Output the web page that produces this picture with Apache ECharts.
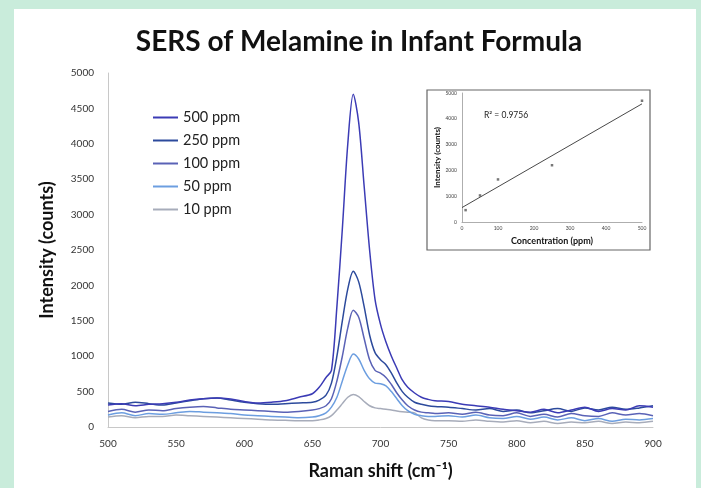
<!DOCTYPE html>
<html>
<head>
<meta charset="utf-8">
<script src="https://cdn.jsdelivr.net/npm/echarts@6/dist/echarts.min.js"></script>
<style>
html,body{margin:0;padding:0;width:701px;height:488px;background:#c9ecdb;overflow:hidden;}
#panel{position:absolute;left:14px;top:9px;width:682px;height:479px;background:#ffffff;}
#chart{position:absolute;left:0;top:0;width:701px;height:488px;}
</style>
</head>
<body>
<div id="panel"></div>
<div id="chart"></div>
<script>
// ---- data ----
const ramanShift = [500,510,520,530,540,550,560,570,580,590,600,610,620,630,640,650,655,660,664,668,672,676,680,684,688,692,696,700,704,708,712,716,720,725,730,735,740,750,760,770,780,790,800,810,820,830,840,850,860,870,880,890,900];
const seriesNames = ['500 ppm','250 ppm','100 ppm','50 ppm','10 ppm'];
const ppm500 = [310,330,300,320,330,350,380,400,410,395,360,340,350,370,420,470,560,700,800,1700,2800,4000,4700,4300,3400,2500,1800,1450,1200,1000,830,664,560,480,420,390,370,360,320,300,280,250,230,210,250,200,240,280,220,260,240,300,280];
const ppm250 = [340,320,350,330,310,340,370,400,410,380,350,330,320,330,340,350,380,450,620,1000,1500,1950,2200,2050,1700,1300,1050,950,880,760,620,500,420,350,320,300,290,280,260,240,260,220,240,200,230,260,220,270,240,280,250,270,300];
const ppm100 = [220,250,210,240,230,260,280,290,270,250,240,230,220,210,220,240,260,300,400,650,1000,1400,1650,1550,1250,950,800,760,700,600,480,380,300,240,210,200,190,200,180,210,170,160,200,150,180,140,190,160,150,200,170,190,160];
const ppm50  = [170,200,160,190,180,200,220,210,200,190,170,160,150,140,130,140,160,200,280,420,650,880,1030,960,800,680,620,610,580,500,400,300,230,180,160,150,150,160,140,170,130,120,150,110,140,100,130,90,120,80,110,100,120];
const ppm10  = [140,160,130,150,150,170,160,150,140,130,120,110,100,95,90,90,100,120,160,240,330,420,460,430,360,300,270,260,250,240,225,215,210,200,130,100,90,90,80,100,80,70,90,60,80,50,70,60,80,50,70,60,80];
const seriesValues = [ppm500, ppm250, ppm100, ppm50, ppm10];
const seriesColors = ['#3b3bb5','#2c4a9c','#5a62b6','#6c9ee0','#a7acba'];

const xTicks = [500,550,600,650,700,750,800,850,900];
const yTicks = [0,500,1000,1500,2000,2500,3000,3500,4000,4500,5000];

// inset: calibration
const insetConc = [10,50,100,250,500];
const insetIntensity = [460,1030,1650,2200,4700];
const trendConc = [0,500];
const trendIntensity = [560,4580];
const insetXTicks = [0,100,200,300,400,500];
const insetYTicks = [0,1000,2000,3000,4000,5000];

const FONT = 'Lato, "Open Sans", sans-serif';

const chart = echarts.init(document.getElementById('chart'), null, {renderer:'canvas'});

const mainSeries = seriesNames.map((n,i)=>({
  name:n, type:'line', xAxisIndex:0, yAxisIndex:0,
  data: ramanShift.map((x,j)=>[x, seriesValues[i][j]]),
  showSymbol:false, smooth:0.3,
  lineStyle:{width:1.5, color:seriesColors[i]},
  itemStyle:{color:seriesColors[i]},
  z: 10 - i
}));

const option = {
  backgroundColor:'transparent',
  animation:false,
  title:{
    text:'SERS of Melamine in Infant Formula',
    left:354, top:23, textAlign:'center',
    textStyle:{fontFamily:FONT, fontSize:28, fontWeight:'bold', color:'#111'}
  },
  legend:{
    data:seriesNames, orient:'vertical', left:148, top:105,
    itemWidth:25, itemHeight:2, itemGap:8,
    icon:'rect',
    textStyle:{fontFamily:FONT, fontSize:14.5, color:'#222'}
  },
  grid:[
    {left:108, right:48, top:73, bottom:61, containLabel:false},
    {left:462, top:93, width:180, height:129, containLabel:false}
  ],
  xAxis:[
    {type:'value', gridIndex:0, min:500, max:900, interval:50,
     name:'Raman shift (cm\u207B\u00B9)', nameLocation:'middle', nameGap:35,
     nameTextStyle:{fontFamily:FONT, fontSize:18, fontWeight:'bold', color:'#111'},
     axisLine:{show:true, lineStyle:{color:'#c8c8c8', width:1}},
     axisTick:{show:false}, splitLine:{show:false},
     axisLabel:{fontFamily:FONT, fontSize:10, color:'#333', margin:12,
       formatter:v=> xTicks.includes(v)? String(v):''}},
    {type:'value', gridIndex:1, min:0, max:500, interval:100,
     name:'Concentration (ppm)', nameLocation:'middle', nameGap:15,
     nameTextStyle:{fontFamily:FONT, fontSize:9, fontWeight:'bold', color:'#111'},
     axisLine:{show:true, lineStyle:{color:'#999', width:0.8}},
     axisTick:{show:false}, splitLine:{show:false},
     axisLabel:{fontFamily:FONT, fontSize:5, color:'#444', margin:4,
       formatter:v=> insetXTicks.includes(v)? String(v):''}}
  ],
  yAxis:[
    {type:'value', gridIndex:0, min:0, max:5000, interval:500,
     name:'Intensity (counts)', nameLocation:'middle', nameGap:52, nameRotate:90,
     nameTextStyle:{fontFamily:FONT, fontSize:18, fontWeight:'bold', color:'#111'},
     axisLine:{show:true, lineStyle:{color:'#c8c8c8', width:1}},
     axisTick:{show:false}, splitLine:{show:false},
     axisLabel:{fontFamily:FONT, fontSize:10, color:'#333', margin:14,
       formatter:v=> yTicks.includes(v)? String(v):''}},
    {type:'value', gridIndex:1, min:0, max:5000, interval:1000,
     name:'Intensity (counts)', nameLocation:'middle', nameGap:21, nameRotate:90,
     nameTextStyle:{fontFamily:FONT, fontSize:8, fontWeight:'bold', color:'#111'},
     axisLine:{show:true, lineStyle:{color:'#999', width:0.8}},
     axisTick:{show:false}, splitLine:{show:false},
     axisLabel:{fontFamily:FONT, fontSize:5, color:'#444', margin:5,
       formatter:v=> insetYTicks.includes(v)? String(v):''}}
  ],
  graphic:[
    {type:'rect', shape:{x:427, y:90, width:223, height:160},
     style:{fill:'#fff', stroke:'#666', lineWidth:1.2}, z:-1, silent:true},
    {type:'text', left:484, top:111,
     style:{text:'R\u00B2 = 0.9756', font:'8.5px '+FONT, fill:'#222'}, z:20}
  ],
  series: mainSeries.concat([
    {type:'line', xAxisIndex:1, yAxisIndex:1,
     data: trendConc.map((c,i)=>[c, trendIntensity[i]]),
     showSymbol:false, lineStyle:{color:'#333', width:0.9}, silent:true},
    {type:'scatter', xAxisIndex:1, yAxisIndex:1,
     data: insetConc.map((c,i)=>[c, insetIntensity[i]]),
     symbol:'rect', symbolSize:2.5, itemStyle:{color:'#555'}}
  ])
};
chart.setOption(option);
</script>
</body>
</html>
